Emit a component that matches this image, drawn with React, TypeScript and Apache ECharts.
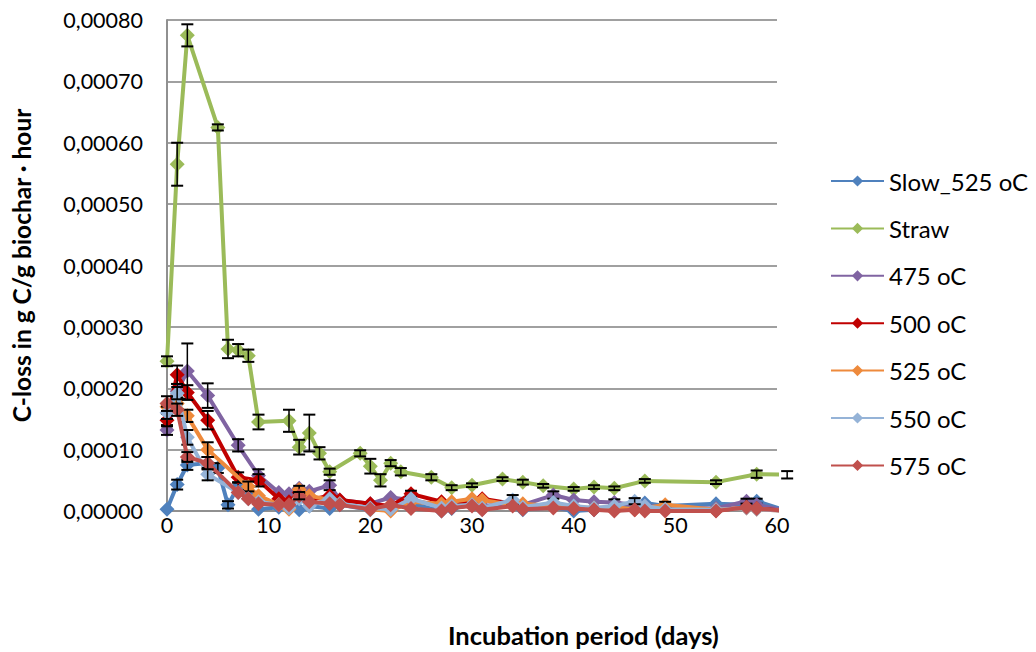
import React, { useEffect, useRef } from "react";
import * as echarts from "echarts";

// ---- data ----
const seriesNames = ["Slow_525 oC", "Straw", "475 oC", "500 oC", "525 oC", "550 oC", "575 oC"];
const seriesColors = ["#4F81BD", "#9BBB59", "#8064A2", "#C00000", "#EE8A3C", "#95B3D7", "#C0504D"];

const xTicks = [0, 10, 20, 30, 40, 50, 60];
const xTitle = "Incubation period (days)";
const yTitle = "C-loss in g C/g biochar · hour";

const strawDays = [0, 1, 2, 5, 6, 7, 8, 9, 12, 13, 14, 15, 16, 19, 20, 21, 22, 23, 26, 28, 30, 33, 35, 37, 40, 42, 44, 47, 54, 58, 61];
const strawVals = [0.000244, 0.000565, 0.000775, 0.000625, 0.000264, 0.000262, 0.000253, 0.000145, 0.000147, 0.000104, 0.000127, 0.000094, 0.000064, 0.000094, 0.000073, 0.000050, 0.000078, 0.000064, 0.000055, 0.000038, 0.000042, 0.000052, 0.000047, 0.000041, 0.000036, 0.000039, 0.000037, 0.000049, 0.000047, 0.000060, 0.000059];
const strawErr = [0.000008, 0.000035, 0.000018, 0.000005, 0.000015, 0.000010, 0.000010, 0.000012, 0.000018, 0.000012, 0.000030, 0.000010, 0.000005, 0.000005, 0.000012, 0.000010, 0.000005, 0.000006, 0.000005, 0.000004, 0.000003, 0.000003, 0.000004, 0.000003, 0.000003, 0.000003, 0.000003, 0.000003, 0.000003, 0.000006, 0.000006];

const days = [0, 1, 2, 4, 5, 6, 7, 8, 9, 11, 12, 13, 14, 16, 17, 20, 22, 24, 27, 28, 30, 31, 34, 35, 38, 40, 42, 44, 46, 47, 49, 54, 57, 58, 61];

const slow525 = [0.000003, 0.000043, 0.000075, 0.000078, 0.000070, 0.000010, 0.000040, 0.000030, 0.000003, 0.000006, 0.000010, 0.000002, 0.000008, 0.000004, 0.000010, 0.000002, 0.000006, 0.000012, 0.000000, 0.000004, 0.000010, 0.000003, 0.000012, 0.000002, 0.000006, 0.000000, 0.000002, 0.000006, 0.000010, 0.000013, 0.000008, 0.000012, 0.000010, 0.000016, 0.000000];
const c475 = [0.000132, 0.000195, 0.000228, 0.000188, null, null, 0.000107, null, 0.000058, 0.000030, 0.000028, 0.000037, 0.000032, 0.000042, 0.000018, 0.000012, 0.000022, 0.000018, 0.000008, 0.000010, 0.000012, 0.000008, 0.000012, 0.000010, 0.000026, 0.000018, 0.000015, 0.000014, 0.000010, 0.000008, 0.000006, 0.000004, 0.000016, 0.000010, 0.000000];
const c500 = [0.000148, 0.000222, 0.000193, 0.000148, null, null, 0.000055, null, 0.000050, 0.000020, 0.000015, 0.000030, 0.000018, 0.000025, 0.000018, 0.000012, 0.000008, 0.000028, 0.000015, 0.000012, 0.000015, 0.000020, 0.000012, 0.000008, 0.000008, 0.000005, 0.000003, 0.000003, 0.000002, 0.000003, 0.000002, 0.000001, 0.000006, 0.000004, 0.000000];
const c525 = [0.000170, 0.000175, 0.000155, 0.000100, null, null, null, 0.000040, 0.000025, 0.000010, 0.000003, 0.000035, 0.000025, 0.000018, 0.000012, 0.000003, 0.000000, 0.000015, 0.000012, 0.000015, 0.000020, 0.000018, 0.000010, 0.000012, 0.000008, 0.000006, 0.000005, 0.000006, 0.000003, 0.000005, 0.000010, 0.000002, 0.000005, 0.000003, 0.000000];
const c550 = [0.000160, 0.000192, 0.000120, 0.000060, null, null, 0.000030, 0.000020, 0.000015, 0.000010, 0.000005, 0.000020, 0.000008, 0.000020, 0.000012, 0.000005, 0.000003, 0.000020, 0.000005, 0.000008, 0.000010, 0.000005, 0.000018, 0.000006, 0.000014, 0.000008, 0.000005, 0.000008, 0.000016, 0.000008, 0.000003, 0.000002, 0.000005, 0.000003, 0.000000];
const c575 = [0.000175, 0.000165, 0.000088, 0.000078, null, null, 0.000030, 0.000020, 0.000012, 0.000010, 0.000010, 0.000025, 0.000015, 0.000012, 0.000010, 0.000003, 0.000010, 0.000004, 0.000000, 0.000005, 0.000008, 0.000002, 0.000008, 0.000003, 0.000005, 0.000004, 0.000002, 0.000000, 0.000002, 0.000000, 0.000000, 0.000000, 0.000006, 0.000004, 0.000000];

// error bars: [day, ± error]
const errSlow = [[1, 0.000008], [2, 0.000008], [4, 0.000010], [5, 0.000008], [6, 0.000006], [7, 0.000006], [58, 0.000004]];
const err475 = [[0, 0.000008], [1, 0.000012], [2, 0.000045], [4, 0.000020], [7, 0.000010], [9, 0.000010], [16, 0.000008], [38, 0.000006], [44, 0.000005], [57, 0.000004]];
const err500 = [[0, 0.000010], [1, 0.000015], [2, 0.000012], [4, 0.000015], [7, 0.000008], [9, 0.000010], [13, 0.000006], [24, 0.000005]];
const err525 = [[1, 0.000010], [2, 0.000010], [4, 0.000012], [8, 0.000008], [13, 0.000006], [49, 0.000005]];
const err550 = [[0, 0.000010], [1, 0.000010], [2, 0.000012], [4, 0.000010], [34, 0.000008], [46, 0.000005]];
const err575 = [[0, 0.000012], [1, 0.000010], [2, 0.000008], [4, 0.000010], [13, 0.000006]];

const fontFamily = "Lato, 'Open Sans', sans-serif";

function pairs(xs: number[], ys: (number | null)[]) {
  return xs.map((x, i) => [x, ys[i]]);
}

function errData(xs: number[], ys: (number | null)[], errs: number[][]) {
  const out: number[][] = [];
  errs.forEach(([d, e]) => {
    const i = xs.indexOf(d);
    if (i >= 0 && ys[i] != null) out.push([d, ys[i] as number, e]);
  });
  return out;
}

const renderErr = (params: any, api: any) => {
  const x = api.value(0);
  const y = api.value(1);
  const e = api.value(2);
  const top = api.coord([x, y + e]);
  const bot = api.coord([x, y - e]);
  const w = 6;
  const style = { stroke: "#000", lineWidth: 1.5 };
  return {
    type: "group",
    children: [
      { type: "line", shape: { x1: top[0], y1: top[1], x2: bot[0], y2: bot[1] }, style },
      { type: "line", shape: { x1: top[0] - w, y1: top[1], x2: top[0] + w, y2: top[1] }, style: { stroke: "#000", lineWidth: 2 } },
      { type: "line", shape: { x1: bot[0] - w, y1: bot[1], x2: bot[0] + w, y2: bot[1] }, style: { stroke: "#000", lineWidth: 2 } },
    ],
  };
};

export default function App() {
  const ref = useRef<HTMLDivElement>(null);

  useEffect(() => {
    if (!ref.current) return;
    const chart = echarts.init(ref.current, undefined, { renderer: "svg" });

    const lineData = [
      pairs(days, slow525),
      pairs(strawDays, strawVals),
      pairs(days, c475),
      pairs(days, c500),
      pairs(days, c525),
      pairs(days, c550),
      pairs(days, c575),
    ];
    const errs = [
      errData(days, slow525, errSlow),
      strawDays.map((d, i) => [d, strawVals[i], strawErr[i]]),
      errData(days, c475, err475),
      errData(days, c500, err500),
      errData(days, c525, err525),
      errData(days, c550, err550),
      errData(days, c575, err575),
    ];

    const series: any[] = [];
    seriesNames.forEach((name, i) => {
      series.push({
        name,
        type: "line",
        data: lineData[i],
        connectNulls: true,
        symbol: "diamond",
        symbolSize: 15,
        showSymbol: true,
        lineStyle: { width: 4, color: seriesColors[i] },
        itemStyle: { color: seriesColors[i] },
        z: 2 + i * 2,
      });
      series.push({
        name: name + " err",
        type: "custom",
        data: errs[i],
        encode: { x: 0, y: 1 },
        renderItem: renderErr,
        clip: false,
        silent: true,
        z: 3 + i * 2,
      });
    });

    chart.setOption({
      animation: false,
      backgroundColor: "#fff",
      textStyle: { fontFamily },
      grid: { left: 167, right: 259, top: 20, bottom: 141, containLabel: false },
      graphic: [
        {
          type: "text",
          left: 583 - 135,
          top: 622,
          style: {
            text: xTitle,
            fontSize: 25.5,
            fontWeight: "bold",
            fill: "#000",
            fontFamily,
          },
        },
      ],
      legend: {
        data: seriesNames,
        orient: "vertical",
        left: 830,
        top: 169,
        padding: 0,
        itemGap: 23.4,
        itemWidth: 53,
        itemHeight: 14,
        textStyle: { fontSize: 24, color: "#000", fontFamily },
      },
      xAxis: {
        type: "value",
        min: 0,
        max: xTicks[xTicks.length - 1],
        interval: 10,
        axisLine: { show: true, lineStyle: { color: "#909090", width: 2 } },
        axisTick: { show: false },
        splitLine: { show: false },
        axisLabel: { fontSize: 21.5, color: "#000", margin: 3, fontFamily },
      },
      yAxis: {
        type: "value",
        min: 0,
        max: 0.0008,
        interval: 0.0001,
        name: yTitle,
        nameLocation: "middle",
        nameGap: 133,
        nameRotate: 90,
        nameTextStyle: { fontSize: 24.5, fontWeight: "bold", color: "#000", fontFamily },
        axisLine: { show: true, lineStyle: { color: "#909090", width: 2 } },
        axisTick: { show: false },
        splitLine: { show: true, lineStyle: { color: "#A0A0A0", width: 2 } },
        axisLabel: {
          fontSize: 21.5,
          color: "#000",
          margin: 24,
          fontFamily,
          formatter: (v: number) => v.toFixed(5).replace(".", ","),
        },
      },
      series,
    });

    return () => chart.dispose();
  }, []);

  return (
    <div
      ref={ref}
      style={{ position: "fixed", left: 0, top: 0, width: 1036, height: 652, background: "#fff" }}
    />
  );
}
